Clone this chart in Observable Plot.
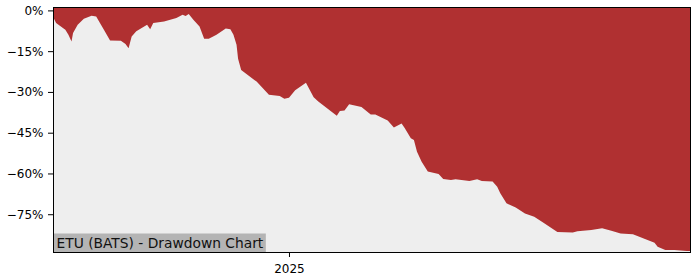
<!DOCTYPE html>
<html>
<head>
<meta charset="utf-8">
<script src="https://cdn.jsdelivr.net/npm/d3@7"></script>
<script src="https://cdn.jsdelivr.net/npm/@observablehq/plot@0.6"></script>
<style>
  html, body { margin: 0; padding: 0; background: white; }
  #chart { width: 700px; height: 280px; }
</style>
</head>
<body>
<div id="chart"></div>
<script>
const dates = [
  "2024-08-01","2024-08-03","2024-08-09","2024-08-11","2024-08-13","2024-08-14","2024-08-17","2024-08-21",
  "2024-08-26","2024-08-29","2024-09-03","2024-09-07","2024-09-14","2024-09-17","2024-09-19","2024-09-21",
  "2024-09-24","2024-10-01","2024-10-03","2024-10-05","2024-10-12","2024-10-20","2024-10-24","2024-10-26",
  "2024-10-28","2024-10-31","2024-11-04","2024-11-07","2024-11-10","2024-11-15","2024-11-21","2024-11-24",
  "2024-11-26","2024-11-28","2024-11-29","2024-12-01","2024-12-11","2024-12-19","2024-12-26","2024-12-29",
  "2025-01-01","2025-01-05","2025-01-12","2025-01-17","2025-01-20","2025-02-01","2025-02-03","2025-02-06",
  "2025-02-09","2025-02-17","2025-02-23","2025-02-26","2025-03-06","2025-03-10","2025-03-15","2025-03-17",
  "2025-03-21","2025-03-23","2025-03-25","2025-03-28","2025-04-01","2025-04-08","2025-04-11","2025-04-16",
  "2025-04-19","2025-04-28","2025-05-03","2025-05-06","2025-05-13","2025-05-16","2025-05-18","2025-05-22",
  "2025-05-28","2025-05-31","2025-06-03","2025-06-09","2025-06-15","2025-06-24","2025-07-04","2025-07-07",
  "2025-07-16","2025-07-23","2025-07-29","2025-08-04","2025-08-12","2025-08-19","2025-08-26","2025-08-28",
  "2025-09-02","2025-09-08","2025-09-16","2025-09-18"
];
const drawdown = [
  -2.3,-4.6,-7.1,-9.0,-11.4,-8.3,-5.3,-3.1,
  -2.0,-2.2,-7.1,-11.1,-11.2,-12.4,-13.9,-9.6,
  -7.7,-5.3,-6.9,-4.6,-4.1,-2.8,-1.6,-2.1,
  -1.3,-3.4,-5.9,-10.4,-10.4,-9.0,-6.7,-6.9,
  -9.0,-12.6,-17.8,-21.9,-26.2,-31.0,-31.5,-32.5,
  -32.1,-29.4,-26.6,-32.0,-33.5,-38.8,-37.0,-36.8,
  -34.5,-35.5,-38.3,-38.3,-40.5,-43.1,-41.6,-43.3,
  -47.0,-47.7,-52.0,-55.7,-59.3,-60.2,-62.0,-62.4,
  -62.1,-62.8,-62.1,-62.8,-63.0,-64.9,-67.3,-71.0,
  -72.5,-73.6,-74.7,-75.9,-78.1,-81.5,-81.7,-81.3,
  -80.8,-80.2,-81.1,-82.1,-82.4,-83.9,-85.5,-87.0,
  -88.2,-88.2,-88.5,-88.5
];
const yTicks = [0, -15, -30, -45, -60, -75];
const xTicks = ["2025-01-01"];
const xTickLabels = ["2025"];
const title = "ETU (BATS) - Drawdown Chart";

const yTop = 1.25;
const yBottom = -88.9;

const data = dates.map((d, i) => ({date: new Date(d), dd: drawdown[i]}));
const xTickDates = xTicks.map(d => new Date(d));

const fmtPct = d => (d < 0 ? "\u2212" + Math.abs(d) : String(d)) + "%";

const chart = Plot.plot({
  width: 700,
  height: 280,
  marginLeft: 53,
  marginRight: 10,
  marginTop: 7,
  marginBottom: 28,
  style: {fontFamily: "DejaVu Sans", fontSize: "12px", color: "black", background: "white"},
  x: {type: "utc", domain: [data[0].date, data[data.length - 1].date]},
  y: {domain: [yBottom, yTop]},
  marks: [
    Plot.frame({fill: "#eeeeee", stroke: null}),
    Plot.areaY(data, {x: "date", y1: yTop, y2: "dd", fill: "#b03031", curve: "linear"}),
    Plot.axisY({ticks: yTicks, tickFormat: fmtPct, tickSize: 5, tickPadding: 5, fontSize: 12, label: null}),
    Plot.axisX({ticks: xTickDates, tickFormat: (d, i) => xTickLabels[i], tickSize: 5, tickPadding: 7, fontSize: 12, label: null}),
    Plot.text([title], {frameAnchor: "bottom-left", dx: 3, dy: -5, lineAnchor: "bottom", textAnchor: "start", fontSize: 13.8, fill: "#111"}),
    Plot.frame({stroke: "black", strokeWidth: 1})
  ]
});

document.getElementById("chart").appendChild(chart);

// gray label box behind the title text (computed from the rendered text)
const svgEl = chart.tagName.toLowerCase() === "svg" ? chart : chart.querySelector("svg");
const svgBox = svgEl.getBoundingClientRect();
d3.select(svgEl).selectAll("text").filter(function() { return this.textContent === title; }).each(function() {
  const r = this.getBoundingClientRect();
  const g = this.closest("g");
  const left = 53, bottom = 252;
  const top = r.top - svgBox.top - 1;
  const right = r.right - svgBox.left + 2;
  const rect = document.createElementNS("http://www.w3.org/2000/svg", "rect");
  rect.setAttribute("x", left);
  rect.setAttribute("y", top);
  rect.setAttribute("width", right - left);
  rect.setAttribute("height", bottom - top);
  rect.setAttribute("fill", "#b4b4b4");
  g.parentNode.insertBefore(rect, g);
});
</script>
</body>
</html>
